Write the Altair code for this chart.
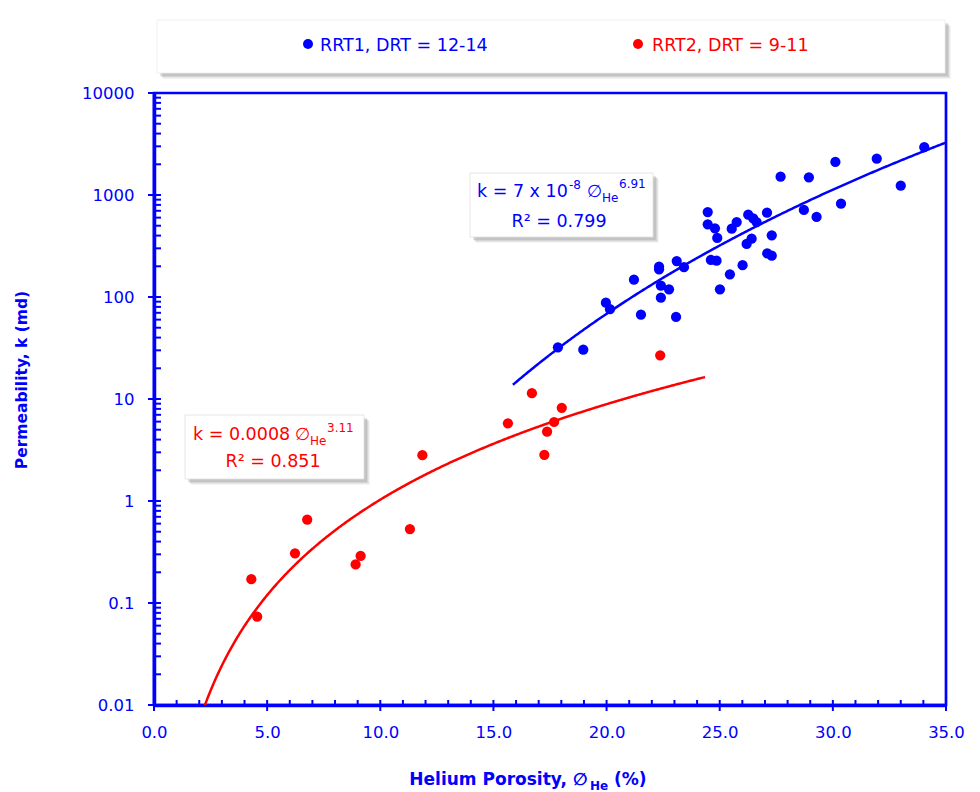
import altair as alt
import pandas as pd

BLUE = "#0000FF"
RED = "#FF0000"

# ---- data ----
rrt1_phi = [34.04, 31.94, 30.11, 27.69, 28.94, 33.0, 30.36, 24.47, 27.09, 28.72, 29.28,
            26.26, 26.48, 26.63, 25.75, 25.53, 24.47, 24.79, 24.89, 27.30, 26.41, 26.19,
            27.10, 27.30, 24.61, 24.86, 26.01, 25.45, 25.01, 23.10, 23.42, 22.32, 22.32,
            21.21, 22.40, 22.76, 22.40, 19.97, 20.15, 21.52, 23.07, 17.85, 18.97]
rrt1_k = [2940, 2270, 2108, 1512, 1492, 1234, 822, 681, 670, 713, 609,
          641, 591, 543, 543, 467, 516, 472, 379, 403, 373, 331,
          268, 254, 231, 227, 205, 167, 119, 225, 196, 198, 187,
          148, 129, 119, 98.4, 88, 76, 67, 63.7, 32.1, 30.4]

rrt2_phi = [16.70, 18.02, 15.64, 17.68, 17.37, 17.25, 11.86, 11.31, 6.77, 6.23, 9.13,
            8.91, 4.30, 4.56, 22.37]
rrt2_k = [11.4, 8.2, 5.78, 5.95, 4.78, 2.84, 2.81, 0.53, 0.656, 0.307, 0.289,
          0.239, 0.171, 0.0735, 26.8]

series_names = ["RRT1, DRT = 12-14", "RRT2, DRT = 9-11"]

# power-law trend lines as printed on the chart: k = a * phi^b
fit_a = [7e-8, 0.0008]
fit_b = [6.91, 3.11]
fit_from = [15.86, 2.25]
fit_to = [35.0, 24.35]

x_ticks = [0, 5, 10, 15, 20, 25, 30, 35]
x_minor = [v for v in range(0, 36) if v % 5 != 0]
y_ticks = [0.01, 0.1, 1, 10, 100, 1000, 10000]
y_minor_mult = [2, 3, 4, 5, 6, 7, 8, 9]
y_minor = [m * d for d in y_ticks[:-1] for m in y_minor_mult]

# ---- layout ----
W, H = 792, 612
X0, Y0 = 154, 93
FONT = "DejaVu Sans"

xs = alt.Scale(domain=[0, 35], nice=False, zero=False)
ys = alt.Scale(type="log", domain=[0.01, 10000], nice=False)

x_axis = alt.Axis(values=x_ticks, format=".1f", labelFont=FONT, labelFontSize=16.5,
                  labelColor=BLUE, ticks=False, tickSize=0, labelPadding=19,
                  labelFlush=False, labelOverlap=False,
                  domainColor=BLUE, domainWidth=3.5, grid=False, title=None)
y_axis = alt.Axis(values=y_ticks, format="~g", labelFont=FONT, labelFontSize=16.5,
                  labelColor=BLUE, ticks=False, tickSize=0, labelPadding=20,
                  labelFlush=False, labelOverlap=False,
                  domainColor=BLUE, domainWidth=3.5, grid=False, title=None)

one = alt.Data(values=[{"a": 1}])


def px(v):
    return alt.value(v - X0)


def py(v):
    return alt.value(v - Y0)


def txt(s, x, y, size, color, weight="normal", align="left", angle=0, baseline="alphabetic"):
    return alt.Chart(one).mark_text(
        text=s, align=align, baseline=baseline, font=FONT, fontSize=size,
        fontWeight=weight, color=color, angle=angle
    ).encode(x=px(x), y=py(y))


def box(x1, y1, x2, y2, stroke="#e0e0e0"):
    layers = []
    for off, op in [(6, 0.08), (5, 0.12), (4, 0.16), (3, 0.2)]:
        layers.append(alt.Chart(one).mark_rect(color="#7f7f7f", opacity=op).encode(
            x=px(x1 + off), x2=px(x2 + off), y=py(y1 + off), y2=py(y2 + off)))
    layers.append(alt.Chart(one).mark_rect(fill="white", stroke=stroke, strokeWidth=0.8).encode(
        x=px(x1), x2=px(x2), y=py(y1), y2=py(y2)))
    return layers


pts = pd.DataFrame({
    "phi": rrt1_phi + rrt2_phi,
    "k": rrt1_k + rrt2_k,
    "series": [series_names[0]] * len(rrt1_phi) + [series_names[1]] * len(rrt2_phi),
})

points = alt.Chart(pts).mark_circle(size=105, opacity=1).encode(
    x=alt.X("phi:Q", scale=xs, axis=x_axis),
    y=alt.Y("k:Q", scale=ys, axis=y_axis),
    color=alt.Color("series:N", scale=alt.Scale(domain=series_names, range=[BLUE, RED]), legend=None),
)

curves = []
for i, col in enumerate([BLUE, RED]):
    curves.append(
        alt.Chart(alt.sequence(fit_from[i], fit_to[i] + 0.02, 0.05, as_="phi"))
        .transform_calculate(k=f"{fit_a[i]}*pow(datum.phi,{fit_b[i]})")
        .mark_line(color=col, strokeWidth=2.5, clip=True)
        .encode(x=alt.X("phi:Q", scale=xs, axis=x_axis), y=alt.Y("k:Q", scale=ys, axis=y_axis))
    )

tick_style = dict(color=BLUE, strokeWidth=2)
y_major_t = alt.Chart(pd.DataFrame({"k": y_ticks})).mark_rule(**tick_style).encode(
    y=alt.Y("k:Q", scale=ys, axis=y_axis), x=alt.value(-6), x2=alt.value(7))
y_minor_t = alt.Chart(pd.DataFrame({"k": y_minor})).mark_rule(**tick_style).encode(
    y=alt.Y("k:Q", scale=ys, axis=y_axis), x=alt.value(1), x2=alt.value(7))
x_major_t = alt.Chart(pd.DataFrame({"phi": x_ticks})).mark_rule(**tick_style).encode(
    x=alt.X("phi:Q", scale=xs, axis=x_axis), y=alt.value(H - 5), y2=alt.value(H + 6))
x_minor_t = alt.Chart(pd.DataFrame({"phi": x_minor})).mark_rule(**tick_style).encode(
    x=alt.X("phi:Q", scale=xs, axis=x_axis), y=alt.value(H - 5), y2=alt.value(H))

# legend box
legend_layers = box(157, 20, 945, 73, stroke="#ececec")
legend_layers += [
    alt.Chart(one).mark_circle(size=100, color=BLUE, opacity=1).encode(x=px(308), y=py(44)),
    txt(series_names[0], 320, 51, 17.5, BLUE),
    alt.Chart(one).mark_circle(size=100, color=RED, opacity=1).encode(x=px(638), y=py(44)),
    txt(series_names[1], 652, 51, 17.5, RED),
]

# equation boxes
eq1 = box(470, 173, 653, 237) + [
    txt("k = 7 x 10", 477, 197, 17.5, BLUE),
    txt("-8", 569, 189, 12, BLUE),
    txt("∅", 587, 197, 17.5, BLUE),
    txt("He", 602, 202, 12, BLUE),
    txt("6.91", 619, 188, 12, BLUE),
    txt("R² = 0.799", 559, 227, 17.5, BLUE, align="center"),
]
eq2 = box(185, 415, 364, 479) + [
    txt("k = 0.0008", 193, 440, 17.5, RED),
    txt("∅", 295, 440, 17.5, RED),
    txt("He", 310, 445, 12, RED),
    txt("3.11", 327, 432, 12, RED),
    txt("R² = 0.851", 273, 467, 17.5, RED, align="center"),
]

# axis titles
titles = [
    txt("Helium Porosity,", 567, 785, 17, BLUE, weight="bold", align="right"),
    txt("∅", 573, 785, 17, BLUE, weight="bold"),
    txt("He", 590, 790, 12, BLUE, weight="bold"),
    txt("(%)", 614, 785, 17, BLUE, weight="bold"),
    txt("Permeability, k (md)", 22, 380, 15.5, BLUE, weight="bold", align="center",
        angle=270, baseline="middle"),
]

chart = alt.layer(
    y_minor_t, y_major_t, x_minor_t, x_major_t,
    points, *curves,
    *legend_layers, *eq1, *eq2, *titles,
).properties(
    width=W, height=H,
    padding={"left": X0, "top": Y0, "right": 980 - X0 - W, "bottom": 792 - Y0 - H},
    autosize=alt.AutoSizeParams(type="none"),
    background="white",
).configure_view(stroke=BLUE, strokeWidth=2.7)

chart.save("out.html", embed_options={"renderer": "svg", "actions": False})
